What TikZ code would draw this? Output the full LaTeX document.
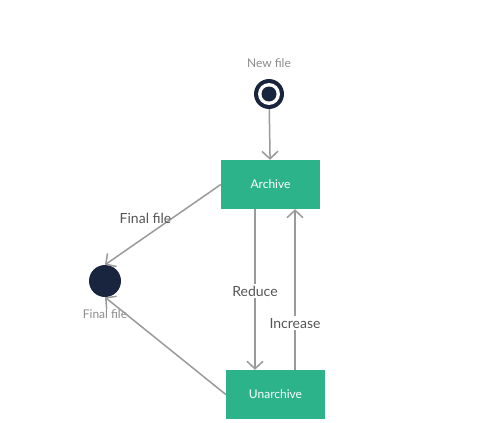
\documentclass[tikz,border=0pt]{standalone}
\usepackage{fontspec}
\setmainfont{Lato}
\usetikzlibrary{arrows.meta}
\definecolor{stategreen}{HTML}{2DB38A}
\definecolor{nodenavy}{HTML}{19243E}
\definecolor{linegray}{HTML}{9A9A9A}
\definecolor{labelgray}{HTML}{555555}
\definecolor{notegray}{HTML}{8C8C8C}
\begin{document}
\begin{tikzpicture}[x=1pt, y=-1pt,
		state/.style={rectangle, fill=stategreen, text=white, minimum width=99pt, minimum height=49pt, font=\fontsize{12}{14}\selectfont},
		startpoint/.style={circle, fill=nodenavy, minimum size=30pt, inner sep=0pt,
			path picture={\fill[white] (path picture bounding box.center) circle (11pt);
				\fill[nodenavy] (path picture bounding box.center) circle (7.5pt);}},
		endpoint/.style={circle, fill=nodenavy, minimum size=32pt, inner sep=0pt},
		flow/.style={draw=linegray, line width=1.5pt, -{Straight Barb[length=7.5pt, width=16pt, line width=1.5pt]}},
		flowlabel/.style={text=labelgray, inner sep=2pt, font=\fontsize{14}{16}\selectfont},
		note/.style={text=notegray, font=\fontsize{12}{14}\selectfont}]
		\useasboundingbox (0,0) rectangle (485,423);

		% States
		\node[startpoint, label={[note, label distance=8pt]above:New file}] (newfile) at (269,94) {};
		\node[state] (archive) at (270.5,184.5) {Archive};
		\node[state] (unarchive) at (275.5,394.5) {Unarchive};
		\node[endpoint, label={[note, label distance=9pt]below:Final file}] (finalfile) at (105,281) {};

		% Transitions
		\draw[flow] (newfile) -- (archive);
		\draw[flow] (archive.west) -- node[flowlabel, pos=0.65, above=10pt] {Final file} (finalfile.north);
		\draw[flow] ([xshift=-15.5pt]archive.south) -- node[flowlabel, fill=white, pos=0.51] {Reduce} ([xshift=-20.5pt]unarchive.north);
		\draw[flow] ([xshift=19.5pt]unarchive.north) -- node[flowlabel, fill=white, pos=0.29] {Increase} ([xshift=24.5pt]archive.south);
		\draw[flow] (unarchive.west) -- (finalfile.south);
	\end{tikzpicture}
\end{document}
